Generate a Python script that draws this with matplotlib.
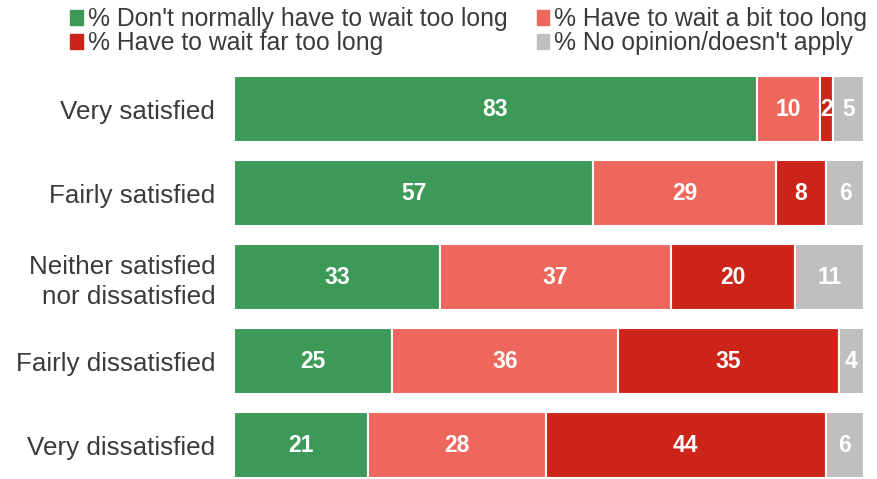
import matplotlib
matplotlib.use('Agg')
from matplotlib import pyplot as plt
from matplotlib.patches import Patch

categories = ['Very satisfied', 'Fairly satisfied', 'Neither satisfied\nnor dissatisfied',
              'Fairly dissatisfied', 'Very dissatisfied']
not_long = [83, 57, 33, 25, 21]
bit_long = [10, 29, 37, 36, 28]
far_long = [2, 8, 20, 35, 44]
no_opinion = [5, 6, 11, 4, 6]

series = [
    ("% Don't normally have to wait too long", not_long, '#3d9958'),
    ('% Have to wait a bit too long', bit_long, '#ee675c'),
    ('% Have to wait far too long', far_long, '#cc2418'),
    ("% No opinion/doesn't apply", no_opinion, '#bfbfbf'),
]

plt.rcParams['font.family'] = ['Liberation Sans', 'DejaVu Sans']

fig = plt.figure(figsize=(8.77, 4.79), dpi=100)
ax = fig.add_axes([234 / 877, 0, 630 / 877, 1 - 67 / 479])

# bars are shown as share of each row's total (rounded labels don't always add to 100)
totals = [sum(t) for t in zip(not_long, bit_long, far_long, no_opinion)]
y = list(range(len(categories)))
left = [0] * len(categories)
for name, vals, col in series:
    widths = [100.0 * v / t for v, t in zip(vals, totals)]
    ax.barh(y, widths, left=left, height=0.79, color=col, edgecolor='white', linewidth=1.5)
    for i, v in enumerate(vals):
        ax.text(left[i] + widths[i] / 2, i, str(v), ha='center', va='center', color='white',
                fontsize=16.5, fontweight='bold')
    left = [a + b for a, b in zip(left, widths)]

ax.set_xlim(0, 100)
ax.set_ylim(4 + (479 - 445) / 84, -0.5)
ax.set_yticks(y)
ax.set_yticklabels(categories, fontsize=18.7, color='#3a3a3a', linespacing=1.3)
ax.tick_params(axis='y', length=0, pad=13.5)
ax.set_xticks([])
for s in ax.spines.values():
    s.set_visible(False)

order = [0, 2, 1, 3]
handles = [Patch(color=series[k][2], label=series[k][0]) for k in order]
fig.legend(handles=handles, ncol=2, loc='upper left', bbox_to_anchor=(68 / 877, 0.99),
           frameon=False, prop={'size': 17.8},
           handlelength=0.5, handleheight=0.5, handletextpad=0.2, columnspacing=1.2,
           labelspacing=0.0, borderaxespad=0, borderpad=0.1, labelcolor='#3a3a3a')

fig.savefig('out.png', dpi=100)
